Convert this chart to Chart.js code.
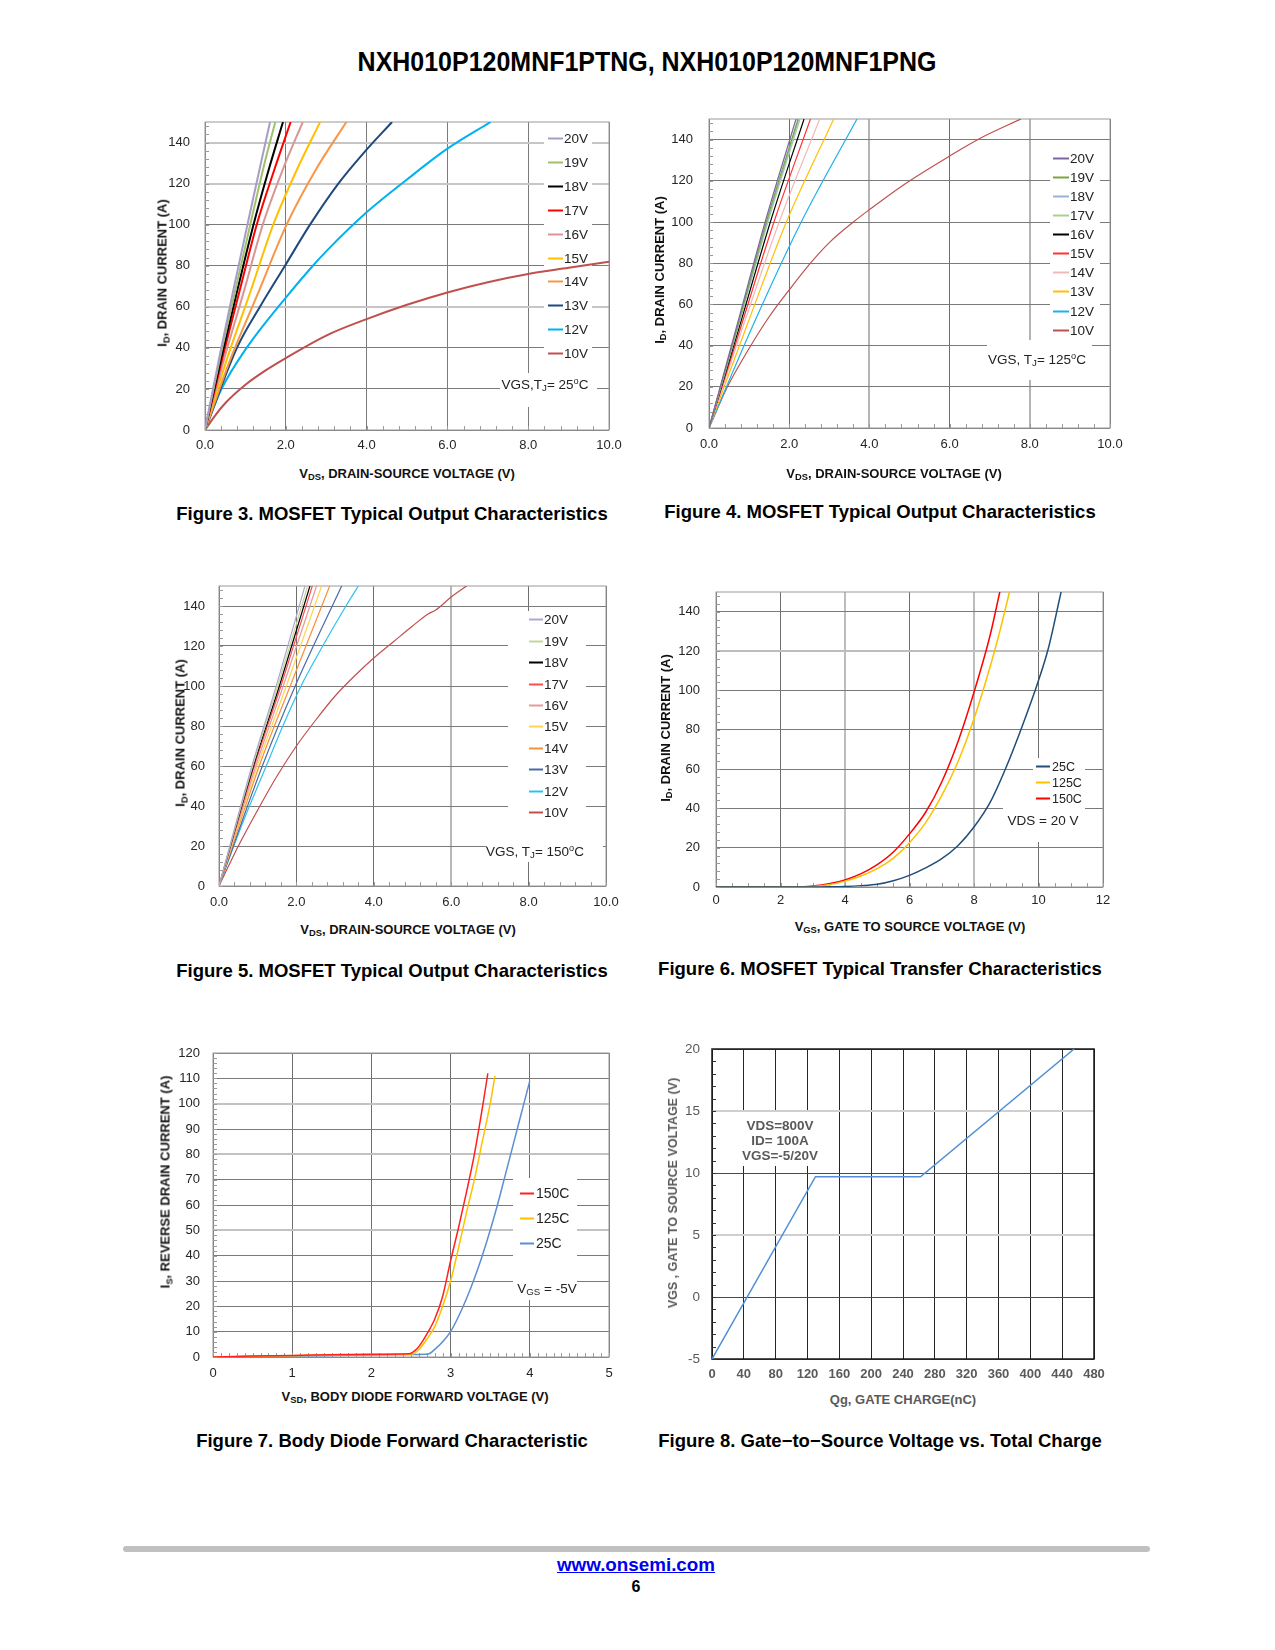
<!DOCTYPE html>
<html>
<head>
<meta charset="utf-8">
<script src="https://cdn.jsdelivr.net/npm/chart.js@4.4.1/dist/chart.umd.min.js"></script>
<style>
body { margin: 0; background: #fff; }
#page { position: relative; width: 1275px; height: 1650px; overflow: hidden; font-family: "Liberation Sans", Arial, sans-serif; color: #000; }
canvas { position: absolute; }
.c { position: absolute; transform: translate(-50%, -50%); white-space: nowrap; }
.narrow { font-family: "Liberation Sans Narrow", "Arial Narrow", "Liberation Sans", Arial, sans-serif; font-weight: bold; }
.cap { font-weight: bold; font-size: 18.5px; }
.xt { font-weight: bold; font-size: 13px; color: #111; }
.yt { position: absolute; transform: translate(-50%, -50%) rotate(-90deg); white-space: nowrap; font-weight: bold; font-size: 13px; color: #111; }
.ann { font-size: 13.5px; color: #222; }
.grey { color: #5a5a5a; }
sub { font-size: 72%; vertical-align: -0.3em; line-height: 0; }
sup { font-size: 68%; vertical-align: 0.5em; line-height: 0; }
</style>
</head>
<body>
<div id="page">
  <div id="title" class="c narrow" style="left:647px; top:62px; font-size:27px;">NXH010P120MNF1PTNG, NXH010P120MNF1PNG</div>

  <canvas id="fig3"></canvas>
  <canvas id="fig4"></canvas>
  <canvas id="fig5"></canvas>
  <canvas id="fig6"></canvas>
  <canvas id="fig7"></canvas>
  <canvas id="fig8"></canvas>

  <!-- figure 3 -->
  <div class="yt" style="left:162px; top:273px;">I<sub>D</sub>, DRAIN CURRENT (A)</div>
  <div class="c xt" style="left:407px; top:473px;">V<sub>DS</sub>, DRAIN-SOURCE VOLTAGE (V)</div>
  <div class="c ann" style="left:545px; top:384px;">VGS,T<sub>J</sub>= 25<sup>o</sup>C</div>
  <div class="c cap" style="left:392px; top:514px;">Figure 3. MOSFET Typical Output Characteristics</div>

  <!-- figure 4 -->
  <div class="yt" style="left:659px; top:270px;">I<sub>D</sub>, DRAIN CURRENT (A)</div>
  <div class="c xt" style="left:894px; top:473px;">V<sub>DS</sub>, DRAIN-SOURCE VOLTAGE (V)</div>
  <div class="c ann" style="left:1037px; top:359px;">VGS, T<sub>J</sub>= 125<sup>o</sup>C</div>
  <div class="c cap" style="left:880px; top:512px;">Figure 4. MOSFET Typical Output Characteristics</div>

  <!-- figure 5 -->
  <div class="yt" style="left:180px; top:733px;">I<sub>D</sub>, DRAIN CURRENT (A)</div>
  <div class="c xt" style="left:408px; top:929px;">V<sub>DS</sub>, DRAIN-SOURCE VOLTAGE (V)</div>
  <div class="c ann" style="left:535px; top:851px;">VGS, T<sub>J</sub>= 150<sup>o</sup>C</div>
  <div class="c cap" style="left:392px; top:971px;">Figure 5. MOSFET Typical Output Characteristics</div>

  <!-- figure 6 -->
  <div class="yt" style="left:665px; top:728px;">I<sub>D</sub>, DRAIN CURRENT (A)</div>
  <div class="c xt" style="left:910px; top:926px;">V<sub>GS</sub>, GATE TO SOURCE VOLTAGE (V)</div>
  <div class="c ann" style="left:1043px; top:820px;">VDS = 20 V</div>
  <div class="c cap" style="left:880px; top:969px;">Figure 6. MOSFET Typical Transfer Characteristics</div>

  <!-- figure 7 -->
  <div class="yt" style="left:165px; top:1182px;">I<sub>S</sub>, REVERSE DRAIN CURRENT (A)</div>
  <div class="c xt" style="left:415px; top:1396px;">V<sub>SD</sub>, BODY DIODE FORWARD VOLTAGE (V)</div>
  <div class="c ann" style="left:547px; top:1288px;">V<sub>GS</sub> = -5V</div>
  <div class="c cap" style="left:392px; top:1441px;">Figure 7. Body Diode Forward Characteristic</div>

  <!-- figure 8 -->
  <div class="yt grey" style="left:673px; top:1193px; font-size:12.5px;">VGS , GATE TO SOURCE VOLTAGE (V)</div>
  <div class="c xt grey" style="left:903px; top:1399px;">Qg, GATE CHARGE(nC)</div>
  <div class="c grey" style="left:780px; top:1141px; font-weight:bold; font-size:13.5px; text-align:center; line-height:14.8px;">VDS=800V<br>ID= 100A<br>VGS=-5/20V</div>
  <div class="c cap" style="left:880px; top:1441px;">Figure 8. Gate&#8722;to&#8722;Source Voltage vs. Total Charge</div>

  <div style="position:absolute; left:123px; top:1546px; width:1027px; height:6px; background:#c0c0c0; border-radius:3px;"></div>
  <div id="site" class="c narrow" style="left:636px; top:1565px; font-size:19px; color:#0000ee; text-decoration:underline;">www.onsemi.com</div>
  <div class="c narrow" style="left:636px; top:1587px; font-size:16px;">6</div>
</div>

<script>
// ---------- data ----------
const vgsLabels = ['20V', '19V', '18V', '17V', '16V', '15V', '14V', '13V', '12V', '10V'];
const vdsTicks = [0, 2, 4, 6, 8, 10];
const idTicks = [0, 20, 40, 60, 80, 100, 120, 140];

// Figure 3, TJ = 25 C  (points are [VDS, ID])
const fig3Curves = [
    [[0, 0], [0.35, 35], [0.7, 68], [1.05, 100], [1.35, 127], [1.61, 150]],
    [[0, 0], [0.37, 35], [0.75, 68], [1.12, 100], [1.45, 128], [1.74, 150]],
    [[0, 0], [0.4, 35], [0.8, 68], [1.2, 100], [1.58, 127], [1.93, 150]],
    [[0, 0], [0.43, 35], [0.86, 68], [1.28, 100], [1.72, 127], [2.12, 150]],
    [[0, 0], [0.48, 35], [0.97, 68], [1.43, 100], [1.93, 127], [2.42, 150]],
    [[0, 0], [0.55, 35], [1.1, 66], [1.69, 100], [2.28, 127], [2.85, 150]],
    [[0, 0], [0.62, 34], [1.3, 66], [2.02, 100], [2.75, 127], [3.5, 150]],
    [[0, 0], [0.79, 40], [1.36, 60], [1.98, 80], [2.6, 100], [3.3, 120], [3.93, 135], [4.63, 150]],
    [[0, 0], [0.41, 20], [1.03, 40], [1.98, 64], [2.67, 80], [3, 87], [4, 106], [5, 122], [6, 137], [7.07, 150]],
    [[0, 0], [0.25, 7], [0.5, 13], [1, 22], [1.5, 29], [2, 35], [3, 46], [4, 54], [5, 61], [6, 67], [7, 72], [8, 76], [9, 79], [10, 82]]
];

// Figure 4, TJ = 125 C
const fig4Curves = [
    [[0, 0], [0.7, 50], [1.4, 100], [2.17, 150]],
    [[0, 0], [0.72, 50], [1.43, 100], [2.22, 150]],
    [[0, 0], [0.73, 50], [1.45, 100], [2.24, 150]],
    [[0, 0], [0.74, 50], [1.47, 100], [2.27, 150]],
    [[0, 0], [0.77, 50], [1.53, 100], [2.37, 150]],
    [[0, 0], [0.81, 50], [1.62, 100], [2.53, 150]],
    [[0, 0], [0.86, 50], [1.75, 100], [2.76, 150]],
    [[0, 0], [0.95, 50], [1.93, 100], [3.11, 150]],
    [[0, 0], [1.1, 50], [2.3, 100], [3.69, 150]],
    [[0, 0], [0.46, 20], [0.95, 37], [1.5, 54], [2, 67], [2.53, 80], [3, 90], [3.6, 100], [4, 106], [4.85, 118], [6, 132], [6.8, 141], [7.78, 150]]
];

// Figure 5, TJ = 150 C
const fig5Curves = [
    [[0, 0], [0.85, 60], [1.48, 100], [2.22, 150]],
    [[0, 0], [0.87, 60], [1.52, 100], [2.29, 150]],
    [[0, 0], [0.89, 60], [1.56, 100], [2.35, 150]],
    [[0, 0], [0.91, 60], [1.6, 100], [2.41, 150]],
    [[0, 0], [0.95, 60], [1.66, 100], [2.52, 150]],
    [[0, 0], [0.99, 60], [1.74, 100], [2.65, 150]],
    [[0, 0], [1.04, 60], [1.84, 100], [2.86, 150]],
    [[0, 0], [1.12, 60], [1.97, 100], [3.17, 150]],
    [[0, 0], [0.6, 31], [1.22, 60], [1.65, 80], [2.12, 100], [2.68, 120], [3.28, 140], [3.6, 150]],
    [[0, 0], [0.5, 20], [1, 38], [1.5, 55], [2, 70], [2.5, 83], [3, 95], [3.5, 105], [4, 114], [4.5, 122], [5, 130], [5.4, 136], [5.6, 138], [6, 144.5], [6.4, 150]]
];

// Figure 6, transfer, VDS = 20 V  (points are [VGS, ID])
const fig6Labels = ['25C', '125C', '150C'];
const fig6XTicks = [0, 2, 4, 6, 8, 10, 12];
const fig6Curves = [
    [[0, 0], [1, 0], [2, 0], [3, 0], [3.5, 0.1], [4, 0.3], [4.5, 0.7], [5, 1.4], [5.5, 3.2], [6, 5.9], [6.5, 9.7], [7, 14.4], [7.5, 21], [8, 30.5], [8.5, 43], [9, 61], [9.5, 82], [10, 105], [10.3, 121], [10.7, 150]],
    [[0, 0], [1, 0], [2, 0], [2.5, 0], [3, 0.3], [3.5, 1.2], [4, 3], [4.5, 5.6], [5, 9.3], [5.5, 14.7], [6, 22.5], [6.5, 32.7], [7, 46.6], [7.5, 63.6], [8, 85.6], [8.5, 112], [8.8, 130], [9.1, 150]],
    [[0, 0], [1, 0], [2, 0], [2.5, 0], [3, 0.5], [3.5, 1.6], [4, 3.6], [4.5, 6.8], [5, 11.4], [5.5, 17.8], [6, 27], [6.5, 38], [7, 53.4], [7.5, 73.7], [8, 99], [8.5, 128], [8.8, 150]]
];

// Figure 7, body diode, VGS = -5 V  (points are [VSD, IS])
const fig7Labels = ['150C', '125C', '25C'];
const fig7XTicks = [0, 1, 2, 3, 4, 5];
const fig7YTicks = [0, 10, 20, 30, 40, 50, 60, 70, 80, 90, 100, 110, 120];
const fig7Curves = [
    [[0, 0], [0.5, 0.4], [1, 0.6], [1.5, 0.9], [2, 1.1], [2.48, 1.3], [2.55, 2.5], [2.62, 5], [2.7, 9], [2.8, 15], [2.9, 24], [3, 38], [3.1, 51], [3.2, 65], [3.3, 80], [3.41, 100], [3.47, 112]],
    [[0, 0], [0.5, 0.3], [1, 0.5], [1.5, 0.8], [2, 1], [2.52, 1.2], [2.6, 3], [2.7, 7], [2.8, 12], [2.9, 20], [3, 30], [3.1, 43], [3.2, 57], [3.3, 70], [3.4, 85], [3.5, 100], [3.56, 111]],
    [[0, 0], [0.5, 0.2], [1, 0.4], [1.5, 0.6], [2, 0.8], [2.5, 1], [2.72, 1.2], [2.8, 3], [2.9, 6], [3, 10], [3.1, 16], [3.2, 23], [3.3, 31], [3.4, 40], [3.5, 50], [3.6, 61], [3.7, 73], [3.8, 85], [3.9, 97], [4, 109]]
];

// Figure 8, gate charge  (points are [Qg nC, VGS])
const fig8XTicks = [0, 40, 80, 120, 160, 200, 240, 280, 320, 360, 400, 440, 480];
const fig8YTicks = [-5, 0, 5, 10, 15, 20];
const fig8Curve = [[0, -5], [130, 9.7], [262, 9.7], [455, 20]];

// ---------- styles ----------
const fig3Colors = ['#a89cc8', '#9fc16a', '#000000', '#ff0000', '#d99694', '#ffc000', '#f79646', '#1f497d', '#00b0f0', '#c0504d'];
const fig4Colors = ['#8064a2', '#77a83f', '#95b3d7', '#a9d18e', '#000000', '#ff3333', '#f2b8b8', '#ffc000', '#1fb1ea', '#c0504d'];
const fig5Colors = ['#b0a8cc', '#c4d79b', '#000000', '#ff4d4d', '#e59a9a', '#ffd54f', '#f7903a', '#4a6aa5', '#2ec1f0', '#c0504d'];
const fig6Colors = ['#1f4e79', '#ffc000', '#ff0000'];
const fig7Colors = ['#ff2020', '#ffc000', '#5b8fd0'];

function series(labels, curves, colors, width) {
    return curves.map(function (c, i) {
        return {
            label: labels[i],
            data: c.map(p => ({ x: p[0], y: p[1] })),
            borderColor: colors[i],
            borderWidth: width,
            showLine: true,
            pointRadius: 0,
            cubicInterpolationMode: 'monotone'
        };
    });
}

function framePlugin(color, width) {
    return {
        id: 'frame',
        beforeDatasetsDraw(chart) {
            const a = chart.chartArea, ctx = chart.ctx;
            ctx.save();
            ctx.strokeStyle = color;
            ctx.lineWidth = width;
            ctx.strokeRect(a.left, a.top, a.right - a.left, a.bottom - a.top);
            ctx.restore();
        }
    };
}

function minorPlugin(m) {
    return {
        id: 'minorTicks',
        beforeDatasetsDraw(chart) {
            const a = chart.chartArea, ctx = chart.ctx, x = chart.scales.x, y = chart.scales.y;
            ctx.save();
            ctx.strokeStyle = m.color;
            ctx.lineWidth = 1;
            ctx.beginPath();
            if (m.y) {
                for (let i = 0; y.min + i * m.y <= y.max + 1e-9; i++) {
                    const py = Math.round(y.getPixelForValue(y.min + i * m.y)) + 0.5;
                    ctx.moveTo(a.left, py);
                    ctx.lineTo(a.left + m.len, py);
                }
            }
            if (m.x) {
                for (let i = 0; x.min + i * m.x <= x.max + 1e-9; i++) {
                    const px = Math.round(x.getPixelForValue(x.min + i * m.x)) + 0.5;
                    ctx.moveTo(px, a.bottom);
                    ctx.lineTo(px, a.bottom - m.len);
                }
            }
            ctx.stroke();
            ctx.restore();
        }
    };
}

// white boxes behind legend / notes, then legend entries over the curves
function legendPlugin(lg) {
    return {
        id: 'boxLegend',
        beforeDatasetsDraw(chart) {
            const a = chart.chartArea, ctx = chart.ctx;
            ctx.save();
            ctx.fillStyle = '#ffffff';
            lg.boxes.forEach(b => ctx.fillRect(a.left + b[0], a.top + b[1], b[2] - b[0], b[3] - b[1]));
            ctx.restore();
        },
        afterDatasetsDraw(chart) {
            if (!lg.rows) return;
            const a = chart.chartArea, ctx = chart.ctx;
            ctx.save();
            ctx.font = lg.font;
            ctx.textBaseline = 'middle';
            ctx.fillStyle = '#222';
            chart.data.datasets.forEach(function (ds, i) {
                const y = Math.round(a.top + lg.y0 + i * lg.dy) + 0.5;
                ctx.strokeStyle = ds.borderColor;
                ctx.lineWidth = lg.lineWidth;
                ctx.beginPath();
                ctx.moveTo(a.left + lg.x0, y);
                ctx.lineTo(a.left + lg.x1, y);
                ctx.stroke();
                ctx.fillText(ds.label, a.left + lg.tx, y + 1);
            });
            ctx.restore();
        }
    };
}

function makeChart(id, plot, o) {
    // big margins so tick-label padding never pushes the plot area around
    const padL = 62, padT = 34, padR = 40, padB = 30;
    const cv = document.getElementById(id);
    cv.width = plot[2] - plot[0] + padL + padR;
    cv.height = plot[3] - plot[1] + padT + padB;
    cv.style.left = (plot[0] - padL) + 'px';
    cv.style.top = (plot[1] - padT) + 'px';
    const g = o.grid;
    function gridColor(list, base) {
        return ctx => (ctx.tick && list.includes(ctx.tick.value)) ? g.light : base;
    }
    function gridWidth(list) {
        return ctx => (ctx.tick && list.includes(ctx.tick.value)) ? 2 : 1;
    }
    return new Chart(cv, {
        type: 'scatter',
        data: { datasets: o.datasets },
        options: {
            responsive: false,
            animation: false,
            events: [],
            layout: { padding: { left: 0, top: padT, right: padR, bottom: 0 } },
            plugins: { legend: { display: false }, tooltip: { enabled: false } },
            scales: {
                x: {
                    type: 'linear', min: o.xMin, max: o.xMax,
                    afterFit: s => { s.height = padB; },
                    afterBuildTicks: s => { s.ticks = o.xTicks.map(v => ({ value: v })); },
                    grid: { drawTicks: false, color: gridColor(g.lightX, g.x), lineWidth: gridWidth(g.lightX) },
                    border: { display: false },
                    ticks: { padding: o.xPad, autoSkip: false, maxRotation: 0, color: o.tickColor, font: o.xFont, callback: o.xFmt }
                },
                y: {
                    type: 'linear', min: o.yMin, max: o.yMax,
                    afterFit: s => { s.width = padL; },
                    afterBuildTicks: s => { s.ticks = o.yTicks.map(v => ({ value: v })); },
                    grid: { drawTicks: false, color: gridColor(g.lightY, g.y), lineWidth: gridWidth(g.lightY) },
                    border: { display: false },
                    ticks: { padding: o.yPad, autoSkip: false, color: o.tickColor, font: o.yFont, callback: v => String(v) }
                }
            }
        },
        plugins: [legendPlugin(o.legend), framePlugin(o.frame[0], o.frame[1]), minorPlugin(o.minor)]
    });
}

const tickFont = { family: 'Liberation Sans', size: 13 };
const oneDec = v => v.toFixed(1);
const whole = v => String(v);

makeChart('fig3', [205, 122, 609, 430], {
    datasets: series(vgsLabels, fig3Curves, fig3Colors, 2),
    xMin: 0, xMax: 10, yMin: 0, yMax: 150, xTicks: vdsTicks, yTicks: idTicks,
    xPad: 8, yPad: 15, xFont: tickFont, yFont: tickFont, tickColor: '#262626', xFmt: oneDec,
    grid: { x: '#7a7a7a', y: '#7a7a7a', light: '#c6c6c6', lightX: [], lightY: [60, 120, 140] },
    frame: ['#9a9a9a', 1],
    minor: { x: 0.4, y: 4, len: 4, color: '#9a9a9a' },
    legend: { rows: true, x0: 343, x1: 358, tx: 359, y0: 16, dy: 23.9, font: '13.5px "Liberation Sans"', lineWidth: 2,
        boxes: [[339, 8, 387, 238], [295, 251, 392, 285]] }
});

makeChart('fig4', [709, 119, 1110, 428], {
    datasets: series(vgsLabels, fig4Curves, fig4Colors, 1.2),
    xMin: 0, xMax: 10, yMin: 0, yMax: 150, xTicks: vdsTicks, yTicks: idTicks,
    xPad: 9, yPad: 16, xFont: tickFont, yFont: tickFont, tickColor: '#262626', xFmt: oneDec,
    grid: { x: '#6f6f6f', y: '#7a7a7a', light: '#b4b4b4', lightX: [4, 8], lightY: [] },
    frame: ['#9a9a9a', 1],
    minor: { x: 0.4, y: 4, len: 4, color: '#9a9a9a' },
    legend: { rows: true, x0: 344, x1: 360, tx: 361, y0: 38.5, dy: 19.14, font: '13.5px "Liberation Sans"', lineWidth: 2,
        boxes: [[341, 31, 391, 218], [278, 221, 383, 261]] }
});

makeChart('fig5', [219, 586, 606, 886], {
    datasets: series(vgsLabels, fig5Curves, fig5Colors, 1.2),
    xMin: 0, xMax: 10, yMin: 0, yMax: 150, xTicks: vdsTicks, yTicks: idTicks,
    xPad: 9, yPad: 14, xFont: tickFont, yFont: tickFont, tickColor: '#262626', xFmt: oneDec,
    grid: { x: '#6f6f6f', y: '#7a7a7a', light: '#b8b8b8', lightX: [6], lightY: [] },
    frame: ['#9a9a9a', 1],
    minor: { x: 0.4, y: 4, len: 4, color: '#9a9a9a' },
    legend: { rows: true, x0: 310, x1: 324, tx: 325, y0: 33.4, dy: 21.4, font: '13.5px "Liberation Sans"', lineWidth: 2,
        boxes: [[289, 25, 367, 237], [268, 237, 384, 276]] }
});

makeChart('fig6', [716, 592, 1103, 887], {
    datasets: series(fig6Labels, fig6Curves, fig6Colors, 1.5),
    xMin: 0, xMax: 12, yMin: 0, yMax: 150, xTicks: fig6XTicks, yTicks: idTicks,
    xPad: 6, yPad: 16, xFont: tickFont, yFont: tickFont, tickColor: '#262626', xFmt: whole,
    grid: { x: '#6f6f6f', y: '#7a7a7a', light: '#bdbdbd', lightX: [4, 8], lightY: [120] },
    frame: ['#9a9a9a', 1],
    minor: { x: 0.5, y: 4, len: 4, color: '#9a9a9a' },
    legend: { rows: true, x0: 320, x1: 334, tx: 336, y0: 173.7, dy: 16.2, font: '12.5px "Liberation Sans"', lineWidth: 2,
        boxes: [[317, 166, 369, 214], [287, 214, 369, 250]] }
});

makeChart('fig7', [213, 1053, 609, 1357], {
    datasets: series(fig7Labels, fig7Curves, fig7Colors, 1.5),
    xMin: 0, xMax: 5, yMin: 0, yMax: 120, xTicks: fig7XTicks, yTicks: fig7YTicks,
    xPad: 9, yPad: 13, xFont: tickFont, yFont: tickFont, tickColor: '#262626', xFmt: whole,
    grid: { x: '#6f6f6f', y: '#7a7a7a', light: '#c2c2c2', lightX: [], lightY: [50, 80, 100] },
    frame: ['#9a9a9a', 1],
    minor: { x: 0.1, y: 2, len: 4, color: '#9a9a9a' },
    legend: { rows: true, x0: 307, x1: 321, tx: 323, y0: 140, dy: 25, font: '14px "Liberation Sans"', lineWidth: 2,
        boxes: [[300, 125, 364, 247]] }
});

makeChart('fig8', [712, 1049, 1094, 1359], {
    datasets: [{ label: 'VGS', data: fig8Curve.map(p => ({ x: p[0], y: p[1] })), borderColor: '#4f8fd6', borderWidth: 1.5, showLine: true, pointRadius: 0 }],
    xMin: 0, xMax: 480, yMin: -5, yMax: 20, xTicks: fig8XTicks, yTicks: fig8YTicks,
    xPad: 8, yPad: 12, xFont: { family: 'Liberation Sans', size: 13, weight: 'bold' }, yFont: { family: 'Liberation Sans', size: 13.5 },
    tickColor: '#5a5a5a', xFmt: whole,
    grid: { x: '#262626', y: '#4a4a4a', light: '#cfcfcf', lightX: [], lightY: [5, 15] },
    frame: ['#1a1a1a', 1.5],
    minor: { x: 0, y: 1, len: 4, color: '#333' },
    legend: { rows: false, boxes: [[28, 63, 110, 117]] }
});

// condensed headings: stretch to the width they have in the datasheet
function fitWidth(id, target) {
    const el = document.getElementById(id);
    const w = el.getBoundingClientRect().width;
    el.style.transform = 'translate(-50%, -50%) scaleX(' + (target / w).toFixed(3) + ')';
}
fitWidth('title', 579);
fitWidth('site', 158);
</script>
</body>
</html>
